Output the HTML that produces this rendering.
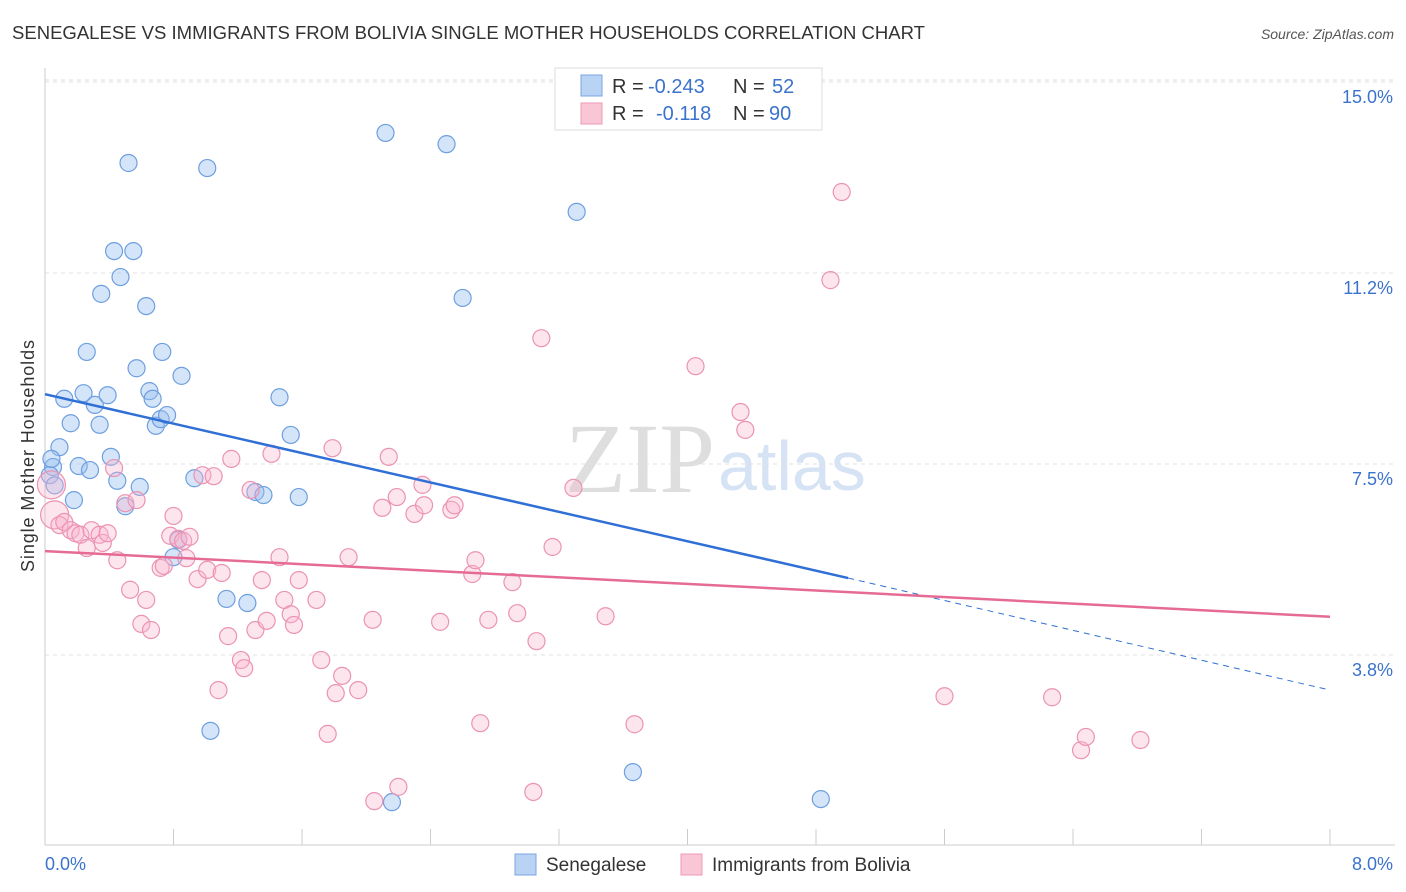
<!DOCTYPE html>
<html><head><meta charset="utf-8"><style>
body{margin:0;background:#fff;font-family:"Liberation Sans",sans-serif}
svg{display:block}
</style></head><body>
<svg id="chart" width="1406" height="892">
<text x="12" y="39" font-size="18" textLength="913" lengthAdjust="spacingAndGlyphs" fill="#333">SENEGALESE VS IMMIGRANTS FROM BOLIVIA SINGLE MOTHER HOUSEHOLDS CORRELATION CHART</text>
<text x="1394" y="39" font-size="14" fill="#555" font-style="italic" text-anchor="end">Source: ZipAtlas.com</text>
<text x="715" y="492" font-size="100" fill="#dedede" text-anchor="end" font-family="Liberation Serif">ZIP</text>
<text x="718" y="490" font-size="70" fill="#d6e3f4">atlas</text>
<g id="grid"></g>
<g id="axes"></g>
<g id="marks"></g>
<text transform="translate(34,456) rotate(-90)" font-size="18" textLength="232" fill="#333" text-anchor="middle">Single Mother Households</text>
<g>
<rect x="555" y="68" width="267" height="62" fill="#fff" stroke="#ddd"/>
<rect x="581" y="75" width="21" height="21" fill="#b8d3f3" stroke="#7aa6e0"/>
<rect x="581" y="103" width="21" height="21" fill="#f9c6d6" stroke="#ee9ab5"/>
<text x="612" y="93" font-size="20" fill="#333">R = <tspan x="648" fill="#3b73cc">-0.243</tspan><tspan x="733">N = </tspan><tspan x="772" fill="#3b73cc">52</tspan></text>
<text x="612" y="120" font-size="20" fill="#333">R = <tspan x="656" fill="#3b73cc">-0.118</tspan><tspan x="733">N = </tspan><tspan x="769" fill="#3b73cc">90</tspan></text>
</g>
<g>
<rect x="515" y="854" width="21" height="21" fill="#b8d3f3" stroke="#7aa6e0"/>
<text x="546" y="871" font-size="19" fill="#333">Senegalese</text>
<rect x="681" y="854" width="21" height="21" fill="#f9c6d6" stroke="#ee9ab5"/>
<text x="712" y="871" font-size="19" fill="#333">Immigrants from Bolivia</text>
</g>
</svg>
<script>
const blueX=[.05,.03,.06,.09,.04,.12,.16,.18,.21,.24,.26,.28,.31,.34,.35,.39,.41,.43,.45,.47,.50,.52,.55,.57,.59,.63,.65,.67,.69,.72,.73,.76,.80,.83,.85,.93,1.01,1.03,1.13,1.26,1.31,1.36,1.46,1.53,1.58,2.12,2.16,2.50,2.60,3.31,3.66,4.83];
const blueY=[7.44,7.28,7.08,7.83,7.60,8.78,8.30,6.79,7.46,8.89,9.70,7.38,8.66,8.27,10.84,8.85,7.64,11.68,7.17,11.17,6.67,13.41,11.68,9.38,7.05,10.60,8.93,8.78,8.25,8.38,9.70,8.46,5.67,6.01,9.23,7.22,13.31,2.26,4.85,4.77,6.95,6.89,8.81,8.07,6.85,14.00,0.86,13.78,10.76,12.45,1.45,0.92];
const pinkX=[.06,.04,.09,.12,.16,.19,.22,.26,.29,.34,.36,.39,.43,.45,.50,.53,.57,.60,.63,.66,.72,.74,.78,.80,.83,.86,.88,.90,.95,.98,1.01,1.05,1.08,1.10,1.14,1.16,1.22,1.24,1.28,1.31,1.35,1.38,1.41,1.46,1.49,1.53,1.55,1.58,1.69,1.72,1.76,1.79,1.81,1.85,1.89,1.95,2.04,2.05,2.10,2.14,2.19,2.20,2.30,2.35,2.36,2.46,2.53,2.55,2.66,2.68,2.71,2.76,2.91,2.94,3.04,3.06,3.09,3.16,3.29,3.49,3.67,4.05,4.33,4.36,4.89,4.96,5.60,6.27,6.45,6.48,6.82];
const pinkY=[6.50,7.09,6.30,6.36,6.20,6.14,6.11,5.85,6.20,6.11,5.95,6.14,7.42,5.61,6.73,5.03,6.79,4.36,4.83,4.24,5.46,5.50,6.09,6.48,6.03,5.99,5.65,6.07,5.24,7.28,5.42,7.26,3.06,5.36,4.12,7.60,3.65,3.49,6.99,4.24,5.22,4.42,7.70,5.67,4.83,4.55,4.34,5.22,4.83,3.65,2.20,7.81,3.00,3.34,5.67,3.06,4.44,0.88,6.64,7.64,6.85,1.16,6.52,7.09,6.69,4.40,6.60,6.69,5.34,5.61,2.41,4.44,5.18,4.57,1.06,4.02,9.97,5.87,7.03,4.51,2.39,9.42,8.52,8.17,11.11,12.84,2.94,2.92,1.88,2.14,2.08];
const yTicks=[15,11.25,7.5,3.75];
const yTickLabels=["15.0%","11.2%","7.5%","3.8%"];
const xTicks=[0,0.8,1.6,2.4,3.2,4,4.8,5.6,6.4,7.2,8];
const blueTrend=[8.87,5.26,3.06]; // at x=0, 5, 8
const pinkTrend=[5.79,4.50]; // at x=0, 8
const NS="http://www.w3.org/2000/svg";
const sx=v=>45+v/8*1285, sy=v=>82+(15-v)*50.93;
function mk(p,t,a){const e=document.createElementNS(NS,t);for(const k in a)e.setAttribute(k,a[k]);p.appendChild(e);return e;}
const grid=document.getElementById('grid'),axes=document.getElementById('axes'),marks=document.getElementById('marks');
mk(grid,'line',{x1:45,x2:1395,y1:80,y2:80,stroke:'#ddd','stroke-dasharray':'4,4'});
yTicks.forEach((t,i)=>{
 const y=sy(t);
 const l=mk(grid,'line',{x1:45,x2:1395,y1:y,y2:y,stroke:'#e2e2e2','stroke-dasharray':'4,4'});
 
 
 const tx=mk(axes,'text',{x:1393,y:y+21,'font-size':18,fill:'#3b73cc','text-anchor':'end'});
 tx.textContent=yTickLabels[i];
 
 
});
mk(axes,'line',{x1:45,x2:45,y1:68,y2:845,stroke:'#ccc'});
mk(axes,'line',{x1:45,x2:1395,y1:845,y2:845,stroke:'#ccc'});
xTicks.forEach(t=>{const tk=mk(axes,'line',{x1:sx(t),x2:sx(t),y1:829,y2:845,stroke:'#ccc'});
 
 });
let a=mk(axes,'text',{x:45,y:870,'font-size':18,fill:'#3b73cc'});a.textContent='0.0%';


a=mk(axes,'text',{x:1393,y:870,'font-size':18,fill:'#3b73cc','text-anchor':'end'});a.textContent='8.0%';


blueX.forEach((x,i)=>{const c=mk(marks,'circle',{cx:sx(x),cy:sy(blueY[i]),r:8.5,fill:'rgba(150,190,240,0.4)',stroke:'#6e9fe0','stroke-width':1.2});
 
 });
pinkX.forEach((x,i)=>{const c=mk(marks,'circle',{cx:sx(x),cy:sy(pinkY[i]),r:i<2?14:8.5,fill:'rgba(248,180,205,0.35)',stroke:'#eb93b2','stroke-width':1.2});
 
 });
let ln=mk(marks,'line',{x1:sx(0),y1:sy(blueTrend[0]),x2:sx(5),y2:sy(blueTrend[1]),stroke:'#2f6fd6','stroke-width':2.5});


ln=mk(marks,'line',{x1:sx(5),y1:sy(blueTrend[1]),x2:sx(8),y2:sy(blueTrend[2]),stroke:'#2f6fd6','stroke-width':1,'stroke-dasharray':'6,5'});


ln=mk(marks,'line',{x1:sx(0),y1:sy(pinkTrend[0]),x2:sx(8),y2:sy(pinkTrend[1]),stroke:'#e56b95','stroke-width':2.5});


</script>
</body></html>
